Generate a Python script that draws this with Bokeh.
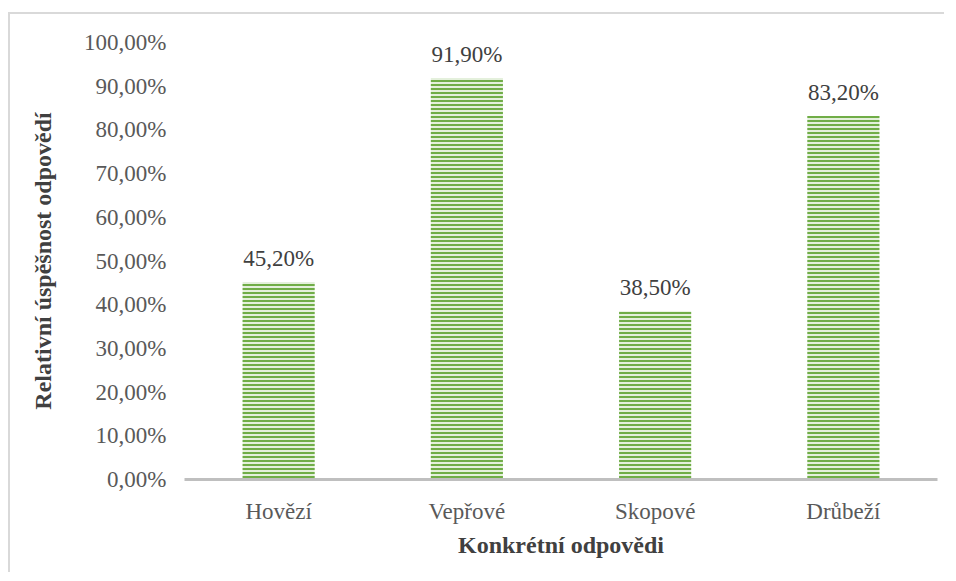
from bokeh.plotting import figure
from bokeh.models import ColumnDataSource, FactorRange, Range1d, FixedTicker
from bokeh.core.properties import value
from bokeh.embed import file_html
from bokeh.resources import INLINE

categories = ["Hovězí", "Vepřové", "Skopové", "Drůbeží"]
values = [0.452, 0.919, 0.385, 0.832]
tick_values = [0.0, 0.1, 0.2, 0.3, 0.4, 0.5, 0.6, 0.7, 0.8, 0.9, 1.0]
tick_labels = ["0,00%", "10,00%", "20,00%", "30,00%", "40,00%", "50,00%",
               "60,00%", "70,00%", "80,00%", "90,00%", "100,00%"]
x_title = "Konkrétní odpovědi"
y_title = "Relativní úspěšnost odpovědí"

labels = [f"{v*100:.2f}%".replace(".", ",") for v in values]
source = ColumnDataSource(dict(cat=categories, val=values, label=labels))

FONT = "Liberation Serif"

p = figure(width=936, height=560, x_range=FactorRange(*categories, range_padding=0),
           y_range=Range1d(0, 1), output_backend="svg", toolbar_location=None,
           min_border_left=174, min_border_right=9, min_border_top=28, min_border_bottom=95)
p.margin = (12, 0, 0, 8)
p.styles = {"border-top": "2px solid #d9d9d9", "border-left": "2px solid #d9d9d9"}

p.vbar(x="cat", top="val", width=0.383, source=source,
       fill_color="#e4f0dc", line_color=None,
       hatch_pattern="horizontal_line", hatch_color="#70ad47",
       hatch_weight=2, hatch_scale=4)

p.text(x="cat", y="val", text="label", source=source, text_align="center",
       text_baseline="bottom", y_offset=-11, text_font=value(FONT),
       text_font_size="23px", text_color="#404040")

p.outline_line_color = None
p.xgrid.grid_line_color = None
p.ygrid.grid_line_color = None

p.yaxis.ticker = FixedTicker(ticks=tick_values)
p.yaxis.major_label_overrides = {t: l for t, l in zip(tick_values, tick_labels)}
p.yaxis.axis_line_color = None
p.yaxis.major_tick_line_color = None
p.yaxis.minor_tick_line_color = None
p.yaxis.major_label_standoff = 12
p.yaxis.axis_label = y_title
p.yaxis.axis_label_standoff = 25

p.xaxis.axis_line_color = "#bfbfbf"
p.xaxis.axis_line_width = 3
p.xaxis.major_tick_line_color = None
p.xaxis.minor_tick_line_color = None
p.xaxis.major_label_standoff = 13
p.xaxis.axis_label = x_title
p.xaxis.axis_label_standoff = 5

for ax in (p.xaxis, p.yaxis):
    ax.major_label_text_font = FONT
    ax.major_label_text_font_size = "23px"
    ax.major_label_text_color = "#595959"
    ax.axis_label_text_font = FONT
    ax.axis_label_text_font_size = "24px"
    ax.axis_label_text_font_style = "bold"
    ax.axis_label_text_color = "#404040"

open("out.html", "w").write(file_html(p, INLINE))
